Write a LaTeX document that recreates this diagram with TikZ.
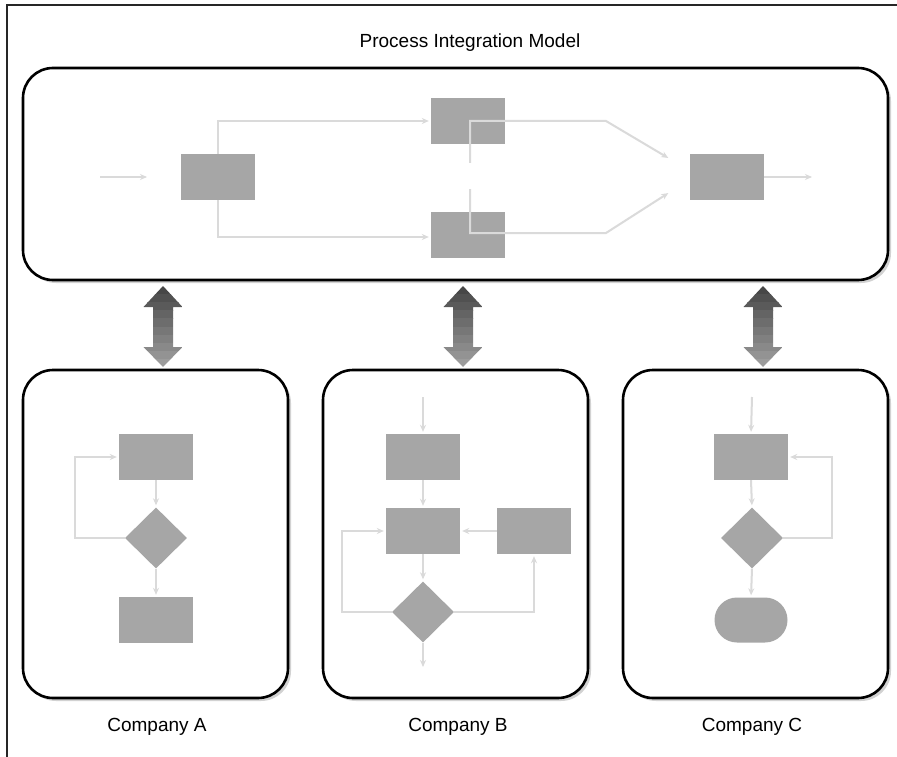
\documentclass[tikz,border=0pt]{standalone}
\usepackage{fontspec}
\setmainfont{Liberation Sans}
\usetikzlibrary{arrows.meta,shapes.geometric,shapes.misc}
\definecolor{boxgray}{HTML}{A6A6A6}
\definecolor{flowgray}{HTML}{DADADA}
\definecolor{shadowgray}{HTML}{D2D2D2}
\tikzset{
  panel/.style={draw=black, line width=2.6pt, rounded corners=30pt, fill=white},
  panelshadow/.style={fill=shadowgray, rounded corners=30pt},
  stepbox/.style={rectangle, fill=boxgray, minimum width=74pt, minimum height=46pt, inner sep=0pt},
  decision/.style={diamond, aspect=1, fill=boxgray, minimum width=62pt, minimum height=61pt, inner sep=0pt},
  terminal/.style={rounded rectangle, fill=boxgray, minimum width=73pt, minimum height=45pt, inner sep=0pt},
  flow/.style={draw=flowgray, line width=2pt, -{Stealth[length=7pt,width=6pt]}, shorten >=2pt},
  label/.style={font=\fontsize{19}{22}\selectfont, inner sep=0pt},
}
\begin{document}
\begin{tikzpicture}[x=1pt, y=-1pt]
\useasboundingbox (0,0) rectangle (897,757);

% outer frame (top and left edges only)
\draw[line width=1.2pt, black!85] (897,5) -- (7,5) -- (7,757);

% title
\node[label] (title) at (470,43) {Process Integration Model};

% ---------- integration model panel ----------
\fill[panelshadow] (26,71) rectangle (891,283);
\draw[panel] (23,68) rectangle (888,280);

\node[stepbox] (b1) at (218,177) {};
\node[stepbox] (b2) at (468,121) {};
\node[stepbox] (b3) at (468,235) {};
\node[stepbox] (b4) at (727,177) {};

\coordinate (in1) at (100,177);
\coordinate (in1e) at (149,177);
\coordinate (out1) at (814,177);
\coordinate (s2) at (470,163);
\coordinate (k2) at (606,121);
\coordinate (t2) at (670,159);
\coordinate (s3) at (470,189);
\coordinate (k3) at (606,233);
\coordinate (t3) at (670,192);

\draw[flow] (in1) -- (in1e);
\draw[flow] (b1.north) |- (b2.west);
\draw[flow] (b1.south) |- ([yshift=-2pt]b3.west);
\draw[flow] (s2) |- (k2) -- (t2);
\draw[flow] (s3) |- (k3) -- (t3);
\draw[flow] (b4.east) -- (out1);

% ---------- exchange arrows (banded grey, dark on top) ----------
\foreach \cx in {163,463,763}{
  \begin{scope}
    \clip (\cx,286) -- (\cx+19.5,307) -- (\cx+10,307) -- (\cx+10,347) -- (\cx+19.5,347)
      -- (\cx,367) -- (\cx-19.5,347) -- (\cx-10,347) -- (\cx-10,307) -- (\cx-19.5,307) -- cycle;
    \foreach \k in {0,...,9}{
      \pgfmathsetmacro{\shadeval}{72-3.7*\k}
      \fill[black!\shadeval] (\cx-20,286+8.1*\k) rectangle (\cx+20,286+8.1*\k+8.6);
    }
  \end{scope}
}

% ---------- company panels ----------
\foreach \lx in {23,323,623}{
  \fill[panelshadow] (\lx+3,373) rectangle (\lx+268,701);
  \draw[panel] (\lx,370) rectangle (\lx+265,698);
}

% Company A
\node[stepbox] (a1) at (156,457) {};
\node[decision] (ad) at (156,538) {};
\node[stepbox] (a2) at (156,620) {};
\draw[flow] (a1.south) -- (ad.north);
\draw[flow] (ad.south) -- (a2.north);
\draw[flow] (ad.west) -- ++(-50,0) |- (a1.west);

% Company B
\coordinate (bin) at (423,397);
\node[stepbox] (c1) at (423,457) {};
\node[stepbox] (c2) at (423,531) {};
\node[stepbox] (c3) at (534,531) {};
\node[decision] (cd) at (423,612) {};
\coordinate (bout) at (423,669);
\draw[flow] (bin) -- (c1.north);
\draw[flow] (c1.south) -- (c2.north);
\draw[flow] (c3.west) -- (c2.east);
\draw[flow] (c2.south) -- (cd.north);
\draw[flow] (cd.west) -- ++(-50,0) |- (c2.west);
\draw[flow] (cd.east) -| (c3.south);
\draw[flow] (cd.south) -- (bout);

% Company C
\coordinate (cin) at (752,397);
\node[stepbox] (e1) at (751,457) {};
\node[decision] (ed) at (752,538) {};
\node[terminal] (et) at (751,620) {};
\draw[flow] (cin) -- (e1.north);
\draw[flow] (e1.south) -- (ed.north);
\draw[flow] (ed.east) -- ++(49,0) |- (e1.east);
\draw[flow] (ed.south) -- (et.north);

% panel captions
\node[label] (capA) at (157,727) {Company A};
\node[label] (capB) at (458,727) {Company B};
\node[label] (capC) at (752,727) {Company C};
\end{tikzpicture}
\end{document}
